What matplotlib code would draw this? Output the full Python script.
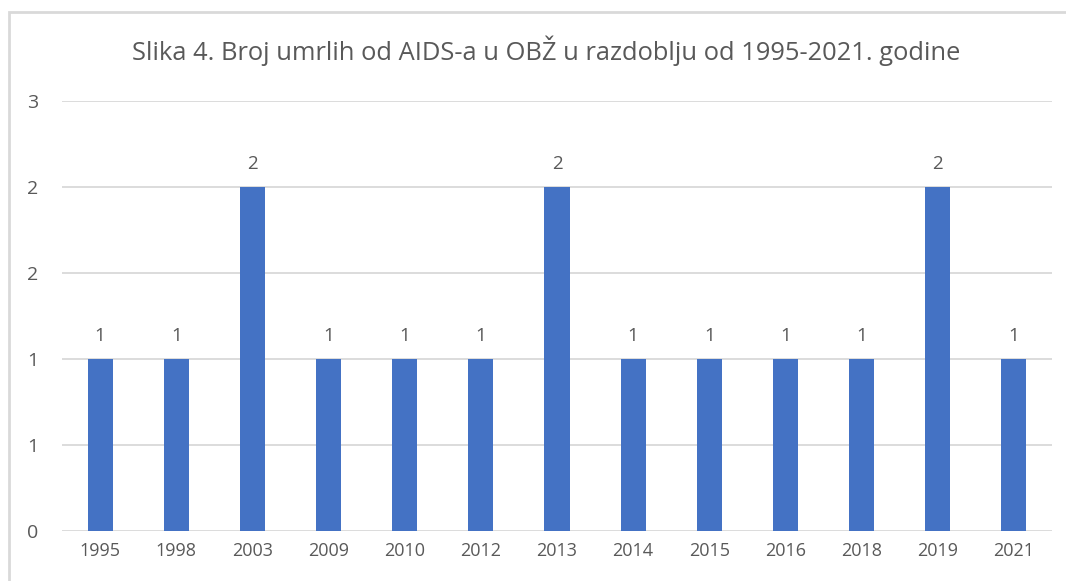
import matplotlib
matplotlib.use('Agg')
import matplotlib.pyplot as plt
from matplotlib.patches import Rectangle
from matplotlib.ticker import FuncFormatter

years = ['1995', '1998', '2003', '2009', '2010', '2012', '2013',
         '2014', '2015', '2016', '2018', '2019', '2021']
deaths = [1, 1, 2, 1, 1, 1, 2, 1, 1, 1, 1, 2, 1]
title = 'Slika 4. Broj umrlih od AIDS-a u OBŽ u razdoblju od 1995-2021. godine'

plt.rcParams['font.family'] = ['Open Sans', 'DejaVu Sans']
txt = '#595959'
bar_color = '#4472C4'
grid_color = '#D9D9D9'

fig = plt.figure(figsize=(10.66, 5.81), dpi=100)
# chart frame like excel, cut off at the right and bottom
frame = Rectangle((9 / 1066, -0.1), 1.2, 1.1 - 12 / 581,
                  transform=fig.transFigure, facecolor='white',
                  edgecolor='#D9D9D9', linewidth=2, zorder=-5)
fig.patches.append(frame)

ax = fig.add_axes([62 / 1066, 1 - 531 / 581, 990 / 1066, 430 / 581])
ax.set_zorder(2)
ax.set_facecolor('none')
x = range(len(years))
bars = ax.bar(x, deaths, width=0.33, color=bar_color, zorder=3)
ax.set_xlim(-0.5, len(years) - 0.5)
ax.set_ylim(0, 2.5)
ax.set_yticks([0, 0.5, 1, 1.5, 2, 2.5])
ax.yaxis.set_major_formatter(FuncFormatter(lambda v, p: str(int(v + 0.5))))
ax.set_xticks(list(x))
ax.set_xticklabels(years)
ax.grid(axis='y', color=grid_color, linewidth=1.3, zorder=0)
for s in ax.spines.values():
    s.set_visible(False)
ax.tick_params(length=0, colors=txt, labelsize=13)
ax.tick_params(axis='y', pad=17)
ax.tick_params(axis='x', pad=8)
for lb in ax.get_yticklabels():
    lb.set_fontsize(14)

for b, v in zip(bars, deaths):
    ax.annotate(str(v), (b.get_x() + b.get_width() / 2, v), xytext=(0, 10),
                textcoords='offset points', ha='center', va='bottom',
                fontsize=13.5, color=txt)

fig.text(546 / 1066, 1 - 51 / 581, title, ha='center', va='center',
         fontsize=18.4, color=txt)

fig.savefig('out.png', dpi=100)
